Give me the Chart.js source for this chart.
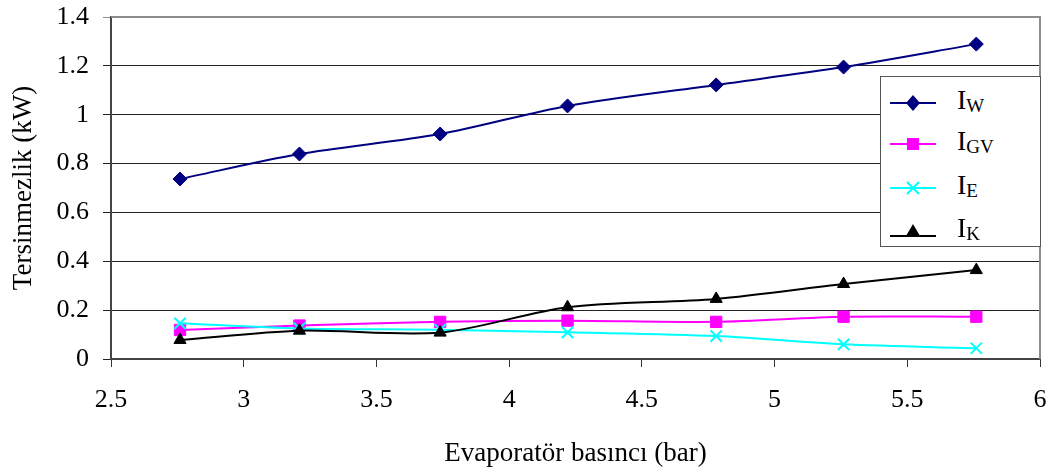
<!DOCTYPE html>
<html>
<head>
<meta charset="utf-8">
<script src="https://cdn.jsdelivr.net/npm/chart.js@4/dist/chart.umd.min.js"></script>
<style>
  body { margin: 0; background: #fff; }
  #wrap { position: relative; width: 1055px; height: 474px; }
  #legend {
    position: absolute; left: 880px; top: 76px; width: 159px; height: 169px;
    border: 1px solid #555; background: #fff;
    font-family: "Liberation Serif", "Times New Roman", serif; color: #000;
  }
  .row { position: absolute; left: 0; height: 30px; width: 159px; }
  .row svg { position: absolute; left: 9px; top: 0; }
  .row span { position: absolute; left: 76px; top: -4px; font-size: 28px; line-height: 30px; }
  .row sub { font-size: 19px; vertical-align: -3px; }
</style>
</head>
<body>
<div id="wrap">
  <canvas id="myChart" width="1055" height="474"></canvas>
  <div id="legend"></div>
</div>
<script>
// evaporator pressure (bar)
const pressure = [2.76, 3.21, 3.74, 4.22, 4.78, 5.26, 5.76];
const iW  = [0.737, 0.839, 0.921, 1.036, 1.122, 1.195, 1.289];
const iGV = [0.119, 0.137, 0.152, 0.157, 0.152, 0.173, 0.173];
const iE  = [0.146, 0.125, 0.120, 0.109, 0.094, 0.060, 0.044];
const iK  = [0.078, 0.116, 0.108, 0.212, 0.246, 0.307, 0.364];

const seriesNames = ['W', 'GV', 'E', 'K'];
const seriesData = [iW, iGV, iE, iK];
const colors = ['#000080', '#ff00ff', '#00ffff', '#000000'];
const markers = ['rectRot', 'rect', 'crossRot', 'triangle'];
const markerSize = [7, 8, 8, 7];

const font = "'Liberation Serif', 'Times New Roman', serif";

function toPoints(ys) {
    return pressure.map((x, i) => ({ x: x, y: ys[i] }));
}

function fmt(v) {
    return String(Math.round(v * 10) / 10);
}

const datasets = seriesData.map((ys, i) => ({
    label: 'I' + seriesNames[i],
    data: toPoints(ys),
    borderColor: colors[i],
    backgroundColor: colors[i],
    borderWidth: 2,
    pointStyle: markers[i],
    pointRadius: markerSize[i],
    pointBorderWidth: markers[i] === 'crossRot' ? 2 : 1,
    tension: 0.3,
    order: 4 - i
}));

// gray frame on top/right of the plot area
const frame = {
    id: 'frame',
    beforeDatasetsDraw(chart) {
        const a = chart.chartArea;
        const c = chart.ctx;
        c.save();
        c.strokeStyle = '#8c8c8c';
        c.lineWidth = 2;
        c.beginPath();
        c.moveTo(a.left, a.top);
        c.lineTo(a.right, a.top);
        c.lineTo(a.right, a.bottom);
        c.stroke();
        c.restore();
    }
};

const ctx = document.getElementById('myChart').getContext('2d');
const myChart = new Chart(ctx, {
    type: 'line',
    data: { datasets: datasets },
    options: {
        responsive: false,
        animation: false,
        layout: { padding: { top: 17, right: 15, left: 0, bottom: 0 } },
        plugins: {
            legend: { display: false },
            tooltip: { enabled: false }
        },
        scales: {
            x: {
                type: 'linear',
                min: 2.5,
                max: 6,
                afterFit: (s) => { s.height = 115; s.paddingLeft = 0; s.paddingRight = 0; },
                ticks: { stepSize: 0.5, callback: fmt, color: '#000', font: { family: font, size: 26 }, padding: 18 },
                grid: { drawOnChartArea: false, drawTicks: true, tickLength: 8, color: '#333', lineWidth: 1 },
                border: { color: '#444', width: 2 },
                title: { display: true, text: 'Evaporatör basıncı (bar)', color: '#000', font: { family: font, size: 27 }, padding: { top: 10 } }
            },
            y: {
                min: 0,
                max: 1.4,
                afterFit: (s) => { s.width = 111; s.paddingTop = 0; s.paddingBottom = 0; },
                ticks: { stepSize: 0.2, callback: fmt, color: '#000', font: { family: font, size: 26 }, padding: 14 },
                grid: {
                    color: (c) => (c.tick && c.tick.value >= 1.4 ? '#8c8c8c' : '#222'),
                    lineWidth: 1,
                    tickLength: 8
                },
                border: { color: '#444', width: 2 },
                title: { display: true, text: 'Tersinmezlik (kW)', color: '#000', font: { family: font, size: 27 }, padding: { top: 8, bottom: 4 } }
            }
        }
    },
    plugins: [frame]
});

// html legend so the subscripts stay real text
const legendEl = document.getElementById('legend');
const rowTops = [12, 53, 97, 140];
seriesNames.forEach((name, i) => {
    const row = document.createElement('div');
    row.className = 'row';
    row.style.top = rowTops[i] + 'px';
    const c = colors[i];
    let mark = '';
    if (markers[i] === 'rectRot') mark = `<polygon points="23,6 30,14 23,22 16,14" fill="${c}"/>`;
    if (markers[i] === 'rect') mark = `<rect x="17" y="8" width="12" height="12" fill="${c}"/>`;
    if (markers[i] === 'crossRot') mark = `<path d="M17,8 L29,20 M29,8 L17,20" stroke="${c}" stroke-width="2"/>`;
    if (markers[i] === 'triangle') mark = `<polygon points="23,7 30,19 16,19" fill="${c}"/>`;
    const lineY = markers[i] === 'triangle' ? 19 : 14;
    row.innerHTML = `<svg width="48" height="28"><line x1="0" y1="${lineY}" x2="46" y2="${lineY}" stroke="${c}" stroke-width="2"/>${mark}</svg>` +
        `<span>I<sub>${name}</sub></span>`;
    legendEl.appendChild(row);
});
</script>
</body>
</html>
